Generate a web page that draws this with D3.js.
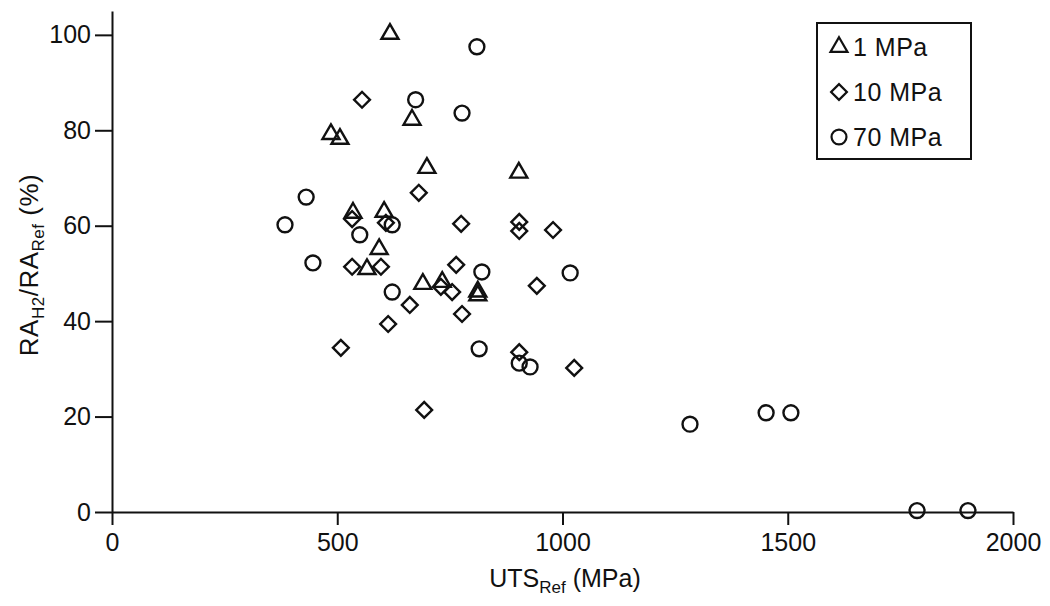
<!DOCTYPE html>
<html>
<head>
<meta charset="utf-8">
<script src="https://cdn.jsdelivr.net/npm/d3@7"></script>
<style>
  body { margin: 0; background: #fff; }
  svg { display: block; }
  text { font-family: "Liberation Sans", Arial, sans-serif; fill: #111; }
</style>
</head>
<body>
<script>
var width = 1050
var height = 606

// 1 MPa (triangles)
var triUts = [617, 486, 506, 666, 699, 903, 604, 535, 593, 566, 690, 733, 812, 812]
var triRa = [100.2, 79.2, 78.2, 82.2, 72.1, 71.1, 62.9, 62.7, 55.1, 50.9, 47.8, 48.2, 46.2, 45.4]

// 10 MPa (diamonds)
var diaUts = [555, 681, 533, 608, 775, 904, 904, 979, 533, 597, 764, 730, 755, 661, 777, 613, 943, 508, 693, 904, 1026]
var diaRa = [86.4, 66.9, 61.4, 60.6, 60.4, 60.8, 58.9, 59.1, 51.4, 51.4, 51.8, 47.2, 46.1, 43.4, 41.5, 39.4, 47.4, 34.4, 21.4, 33.5, 30.2]

// 70 MPa (circles)
var cirUts = [810, 674, 777, 431, 384, 622, 550, 446, 821, 622, 1017, 815, 904, 928, 1283, 1452, 1507, 1787, 1900]
var cirRa = [97.5, 86.4, 83.6, 66.0, 60.2, 60.2, 58.1, 52.2, 50.3, 46.1, 50.1, 34.2, 31.2, 30.4, 18.4, 20.8, 20.8, 0.3, 0.3]

var xTicks = [0, 500, 1000, 1500, 2000]
var yTicks = [0, 20, 40, 60, 80, 100]
var legendLabels = ['1 MPa', '10 MPa', '70 MPa']

var svg = d3.select('body').append('svg')
    .attr('width', width)
    .attr('height', height)

var xScale = d3.scaleLinear()
    .domain([0, 2000])
    .range([112, 1013])

var yScale = d3.scaleLinear()
    .domain([0, 105])
    .range([512, 11])

var shapes = {
  tri: d3.symbol().type(d3.symbolTriangle).size(125),
  dia: d3.symbol().type(d3.symbolSquare).size(125),
  cir: d3.symbol().type(d3.symbolCircle).size(175)
}

var xAxis = d3.axisBottom(xScale)
    .tickValues(xTicks)
    .tickSizeInner(13)
    .tickSizeOuter(0)
    .tickPadding(8)
    .tickFormat(d3.format('d'))

var yAxis = d3.axisLeft(yScale)
    .tickValues(yTicks)
    .tickSizeInner(17)
    .tickSizeOuter(0)
    .tickPadding(4)

var gx = svg.append('g')
    .attr('transform', 'translate(' + [0, 512] + ')')
    .call(xAxis)

var gy = svg.append('g')
    .attr('transform', 'translate(' + [112, 0] + ')')
    .call(yAxis)

;[gx, gy].forEach(function(g) {
  g.selectAll('path, line').attr('stroke', '#111').attr('stroke-width', 2)
  g.selectAll('text')
    .style('font-family', '"Liberation Sans", Arial, sans-serif')
    .style('font-size', '25px')
    .attr('fill', '#111')
})

// axis titles
var yTitle = svg.append('text')
    .attr('transform', 'translate(38,265) rotate(-90)')
    .attr('text-anchor', 'middle')
    .style('font-size', '26px')
    .style('letter-spacing', '0.5px')
yTitle.append('tspan').text('RA')
yTitle.append('tspan').text('H2').attr('dy', 6).style('font-size', '17px')
yTitle.append('tspan').text('/RA').attr('dy', -6)
yTitle.append('tspan').text('Ref').attr('dy', 6).style('font-size', '17px')
yTitle.append('tspan').text(' (%)').attr('dy', -6)

var xTitle = svg.append('text')
    .attr('x', 565)
    .attr('y', 587)
    .attr('text-anchor', 'middle')
    .style('font-size', '25px')
xTitle.append('tspan').text('UTS')
xTitle.append('tspan').text('Ref').attr('dy', 6).style('font-size', '17px')
xTitle.append('tspan').text(' (MPa)').attr('dy', -6)

// points
function drawSeries(xs, ys, shape, rot) {
  svg.append('g').selectAll('path')
    .data(xs.map((x, i) => ({ x: x, y: ys[i] })))
    .enter().append('path')
    .attr('d', shapes[shape]())
    .attr('transform', d => 'translate(' + [xScale(d.x), yScale(d.y)] + ') rotate(' + rot + ')')
    .attr('fill', 'none')
    .attr('stroke', '#111')
    .attr('stroke-width', 2.4)
}

drawSeries(triUts, triRa, 'tri', 0)
drawSeries(diaUts, diaRa, 'dia', 45)
drawSeries(cirUts, cirRa, 'cir', 0)

// legend
var legend = svg.append('g')
legend.append('rect')
    .attr('x', 817)
    .attr('y', 23)
    .attr('width', 154)
    .attr('height', 136)
    .attr('fill', '#fff')
    .attr('stroke', '#111')
    .attr('stroke-width', 2)

var legendShapes = ['tri', 'dia', 'cir']
legendLabels.forEach(function(label, i) {
  var y = 47 + i * 45
  legend.append('path')
    .attr('d', shapes[legendShapes[i]]())
    .attr('transform', 'translate(' + [839, y] + ') rotate(' + (i == 1 ? 45 : 0) + ')')
    .attr('fill', 'none')
    .attr('stroke', '#111')
    .attr('stroke-width', 2.2)
  legend.append('text')
    .attr('x', 853)
    .attr('y', y + 9)
    .style('font-size', '25px')
    .style('letter-spacing', '0.5px')
    .text(label)
})
</script>
</body>
</html>
